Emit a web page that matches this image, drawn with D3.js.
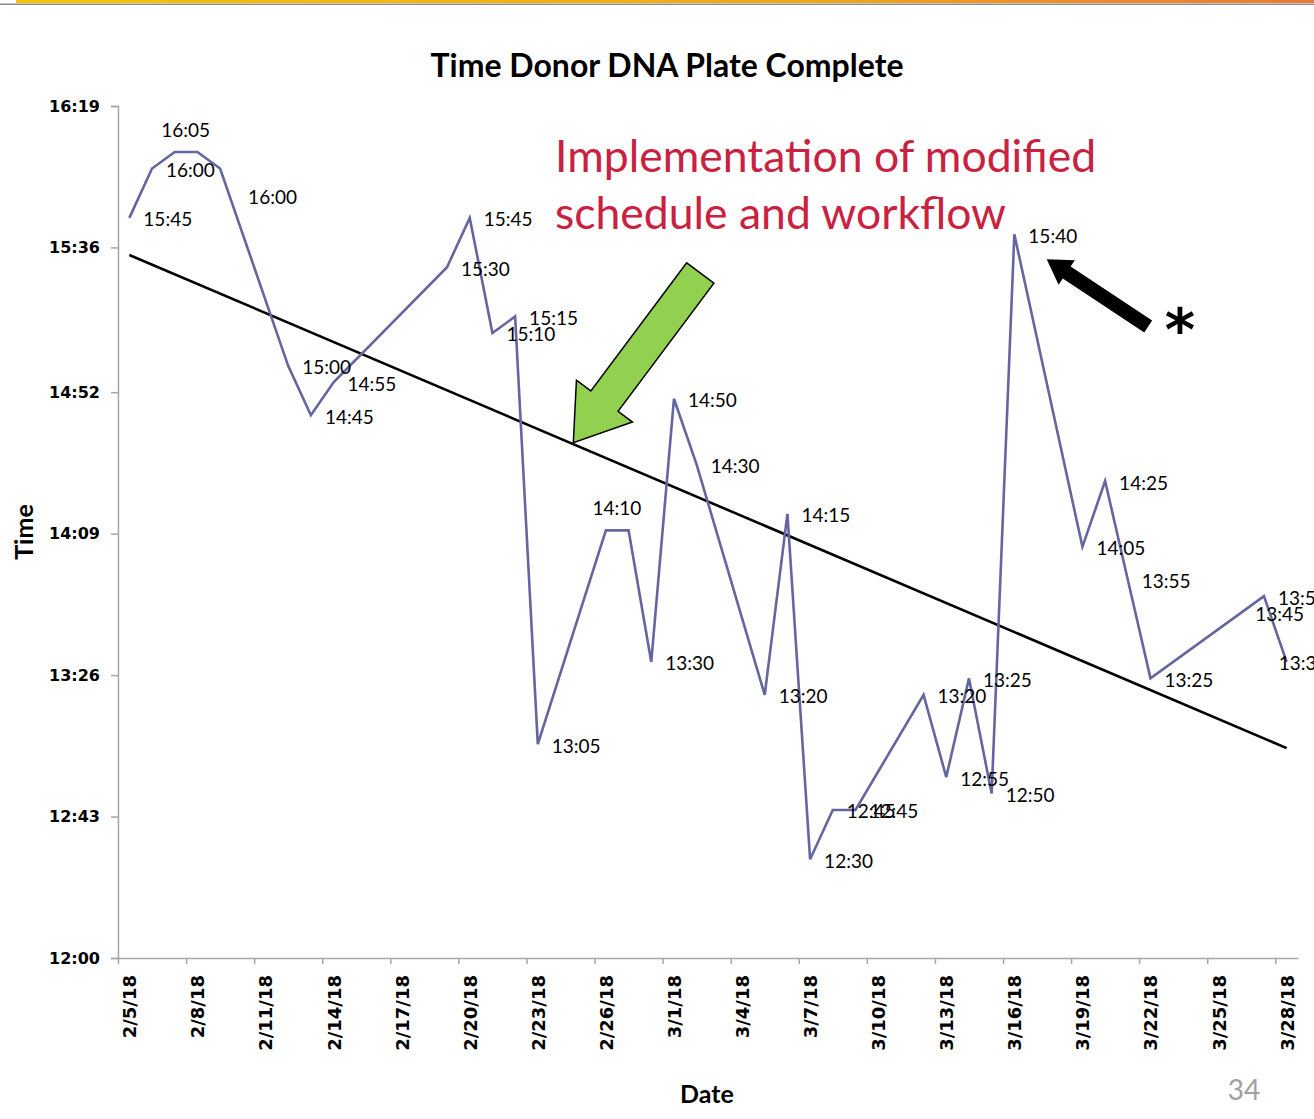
<!DOCTYPE html>
<html>
<head>
<meta charset="utf-8">
<script src="https://cdn.jsdelivr.net/npm/d3@7"></script>
<style>
body { margin: 0; background: #fff; }
svg text { font-family: Lato, "Open Sans", sans-serif; }
</style>
</head>
<body>
<svg id="chart" width="1314" height="1119"></svg>
<script>

// data
let dates = ["2/5/18","2/6/18","2/7/18","2/8/18","2/9/18",
    "2/12/18","2/13/18","2/14/18",
    "2/19/18","2/20/18","2/21/18","2/22/18","2/23/18",
    "2/26/18","2/27/18","2/28/18","3/1/18","3/2/18",
    "3/5/18","3/6/18","3/7/18","3/8/18","3/9/18",
    "3/12/18","3/13/18","3/14/18","3/15/18","3/16/18",
    "3/19/18","3/20/18","3/21/18","3/22/18",
    "3/26/18","3/27/18","3/28/18"];
let times = ["15:45","16:00","16:05","16:05","16:00",
    "15:00","14:45","14:55",
    "15:30","15:45","15:10","15:15","13:05",
    "14:10","14:10","13:30","14:50","14:30",
    "13:20","14:15","12:30","12:45","12:45",
    "13:20","12:55","13:25","12:50","15:40",
    "14:05","14:25","13:55","13:25",
    "13:45","13:50","13:30"];
let xTickLabels = ["2/5/18","2/8/18","2/11/18","2/14/18","2/17/18","2/20/18",
    "2/23/18","2/26/18","3/1/18","3/4/18","3/7/18","3/10/18","3/13/18",
    "3/16/18","3/19/18","3/22/18","3/25/18","3/28/18"];
let yTickLabels = ["12:00","12:43","13:26","14:09","14:52","15:36","16:19"];

// where each data label sits (default is right of the point)
let labelPlacement = {"2/7/18": "above", "2/8/18": "none", "2/9/18": "belowRight",
    "2/26/18": "above", "2/27/18": "none", "3/28/18": "onPoint"};

let parseDate = d3.utcParse("%m/%d/%y");
let toMin = t => { let p = t.split(":"); return +p[0] * 60 + +p[1]; };

let data = dates.map((d, i) => ({ label: d, date: parseDate(d), time: times[i], min: toMin(times[i]) }));

let svg = d3.select("#chart");

// slide header bar
let grad = svg.append("defs").append("linearGradient").attr("id", "bar");
grad.append("stop").attr("offset", "0%").attr("stop-color", "#f6c500");
grad.append("stop").attr("offset", "60%").attr("stop-color", "#efa81a");
grad.append("stop").attr("offset", "100%").attr("stop-color", "#e77a36");
svg.append("rect").attr("x", 16).attr("y", 0).attr("width", 1298).attr("height", 3).attr("fill", "url(#bar)");
svg.append("rect").attr("x", 0).attr("y", 3.5).attr("width", 1314).attr("height", 1.5).attr("fill", "#8c8c8c");

let start = parseDate(dates[0]);
let end = d3.utcDay.offset(parseDate(dates[dates.length - 1]), 1);
let xScale = d3.scaleUtc().domain([start, end]).range([118, 1298]);
let halfDay = (xScale(d3.utcDay.offset(start, 1)) - xScale(start)) / 2;
let px = d => xScale(d.date) + halfDay;

let yTicks = yTickLabels.map(toMin);
let yScale = d3.scaleLinear().domain([yTicks[0], yTicks[yTicks.length - 1]]).range([958, 106]);

// y axis
let leftAxis = d3.axisLeft(yScale).tickValues(yTicks).tickSize(7).tickPadding(11)
    .tickFormat((d, i) => yTickLabels[i]);
let gy = svg.append("g").attr("transform", "translate(118,0)").call(leftAxis);
gy.selectAll("path, line").attr("stroke", "#a6a6a6").attr("stroke-width", 1.5);
gy.selectAll("text").style("font-family", "'DejaVu Sans'").style("font-weight", "bold")
    .style("font-size", "16px").attr("fill", "#000");

// x axis
let xTicks = xTickLabels.map(parseDate);
let bottomAxis = d3.axisBottom(xScale).tickValues(xTicks).tickSize(6).tickSizeOuter(0)
    .tickFormat((d, i) => xTickLabels[i]);
let gx = svg.append("g").attr("transform", "translate(0,958)").call(bottomAxis);
gx.selectAll("path, line").attr("stroke", "#a6a6a6").attr("stroke-width", 1.5);
gx.selectAll("text")
    .attr("transform", "rotate(-90)")
    .attr("text-anchor", "end")
    .attr("x", -17).attr("y", halfDay).attr("dy", "0.36em")
    .style("font-family", "'DejaVu Sans'").style("font-weight", "bold")
    .style("font-size", "18px").attr("fill", "#000");

// linear trendline
let xs = data.map(d => d3.utcDay.count(start, d.date));
let ys = data.map(d => d.min);
let mx = d3.mean(xs), my = d3.mean(ys);
let slope = d3.sum(xs, (x, i) => (x - mx) * (ys[i] - my)) / d3.sum(xs, x => (x - mx) * (x - mx));
let trend = [data[0], data[data.length - 1]].map(d => {
    let n = d3.utcDay.count(start, d.date);
    return { date: d.date, min: my + slope * (n - mx) };
});

let line = d3.line().x(px).y(d => yScale(d.min));

svg.append("path").datum(trend).attr("d", line)
    .attr("fill", "none").attr("stroke", "#000").attr("stroke-width", 2.6);

svg.append("path").datum(data).attr("d", line)
    .attr("fill", "none").attr("stroke", "#65659f").attr("stroke-width", 2.6)
    .attr("stroke-linejoin", "miter");

// data labels
svg.append("g").selectAll("text")
    .data(data.filter(d => labelPlacement[d.label] !== "none"))
    .join("text")
    .attr("x", d => {
        let p = labelPlacement[d.label];
        if (p === "above") return px(d) + 11;
        if (p === "belowRight") return px(d) + 28;
        if (p === "onPoint") return px(d) - 8;
        return px(d) + 14;
    })
    .attr("y", d => {
        let p = labelPlacement[d.label];
        if (p === "above") return yScale(d.min) - 23;
        if (p === "belowRight") return yScale(d.min) + 28;
        return yScale(d.min) + 1;
    })
    .attr("text-anchor", d => labelPlacement[d.label] === "above" ? "middle" : "start")
    .attr("dominant-baseline", "central")
    .style("font-size", "19px")
    .attr("fill", "#000")
    .text(d => d.time);

// titles
svg.append("text").attr("x", 667).attr("y", 77).attr("text-anchor", "middle")
    .style("font-size", "32px").style("font-weight", "bold").text("Time Donor DNA Plate Complete");
svg.append("text").attr("x", 707).attr("y", 1103).attr("text-anchor", "middle")
    .style("font-size", "25px").style("font-weight", "bold").text("Date");
svg.append("text").attr("transform", "translate(33,532) rotate(-90)").attr("text-anchor", "middle")
    .style("font-size", "25px").style("font-weight", "bold").text("Time");
svg.append("text").attr("x", 1244).attr("y", 1100).attr("text-anchor", "middle")
    .style("font-size", "28px").attr("fill", "#a0a0a0").text("34");

// annotation
let note = svg.append("text").style("font-size", "44.5px").attr("fill", "#c9213f");
note.append("tspan").attr("x", 555).attr("y", 172).text("Implementation of modified");
note.append("tspan").attr("x", 555).attr("y", 229).text("schedule and workflow");

function blockArrow(tail, tip, shaftW, headW, headL) {
    let dx = tip[0] - tail[0], dy = tip[1] - tail[1];
    let len = Math.hypot(dx, dy);
    let ux = dx / len, uy = dy / len, nx = -uy, ny = ux;
    let bx = tip[0] - ux * headL, by = tip[1] - uy * headL;
    return [
        [tail[0] + nx * shaftW / 2, tail[1] + ny * shaftW / 2],
        [bx + nx * shaftW / 2, by + ny * shaftW / 2],
        [bx + nx * headW / 2, by + ny * headW / 2],
        tip,
        [bx - nx * headW / 2, by - ny * headW / 2],
        [bx - nx * shaftW / 2, by - ny * shaftW / 2],
        [tail[0] - nx * shaftW / 2, tail[1] - ny * shaftW / 2]
    ].map(p => p.join(",")).join(" ");
}

svg.append("polygon").attr("points", blockArrow([700.3, 273], [573.3, 442.7], 34, 70, 52))
    .attr("fill", "#92d050").attr("stroke", "#000").attr("stroke-width", 1.5).attr("stroke-linejoin", "miter");
svg.append("polygon").attr("points", blockArrow([1148.2, 326.5], [1046.7, 259.3], 14.3, 29.5, 24))
    .attr("fill", "#000");

svg.append("text").attr("x", 1180).attr("y", 350).attr("text-anchor", "middle")
    .style("font-family", "'DejaVu Sans'").style("font-weight", "bold").style("font-size", "58px")
    .text("*");

</script>
</body>
</html>
